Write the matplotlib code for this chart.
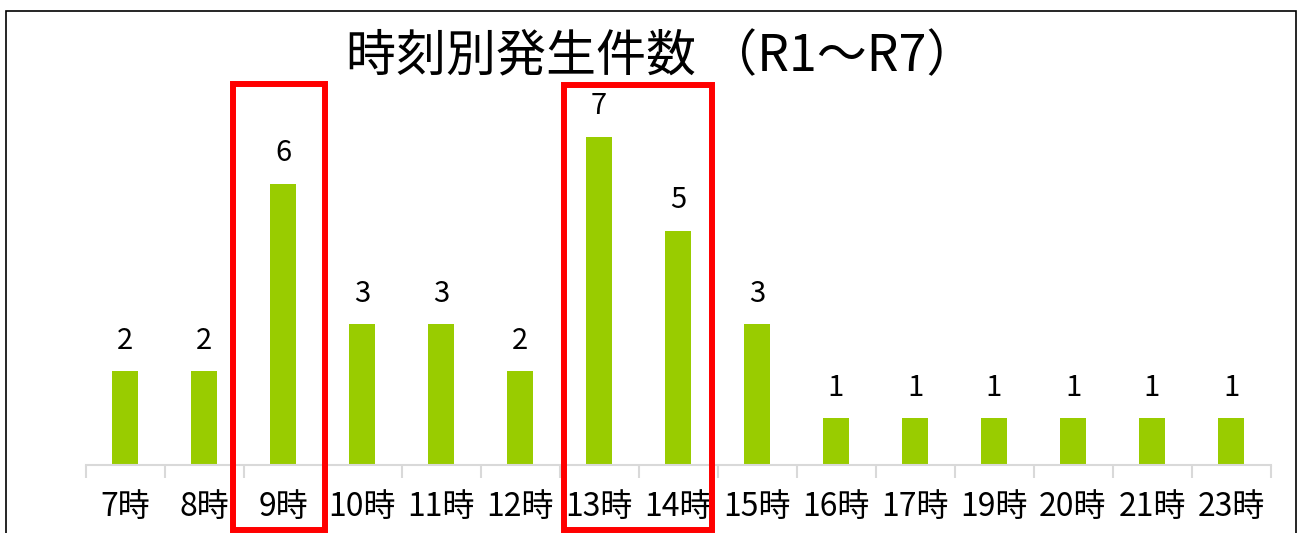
import matplotlib
matplotlib.use("Agg")
import matplotlib.pyplot as plt
from matplotlib.patches import Rectangle
from matplotlib.ticker import FixedLocator

plt.rcParams['font.family'] = ['Noto Sans CJK JP', 'DejaVu Sans']

categories = ["7時", "8時", "9時", "10時", "11時", "12時", "13時", "14時",
              "15時", "16時", "17時", "19時", "20時", "21時", "23時"]
counts = [2, 2, 6, 3, 3, 2, 7, 5, 3, 1, 1, 1, 1, 1, 1]
title = "時刻別発生件数 （R1〜R7）"

W, H = 1301, 533
fig = plt.figure(figsize=(W / 100, H / 100), dpi=100)

# axes geometry in pixels
ax_left, ax_right = 85.5, 1270.5
ax_bottom_px, ax_top_px = 465, 465 - 8 * 46.9
ax = fig.add_axes([ax_left / W, (H - ax_bottom_px) / H,
                   (ax_right - ax_left) / W, (ax_bottom_px - ax_top_px) / H])

x = list(range(len(categories)))
bars = ax.bar(x, counts, width=0.32, color="#99CC00", zorder=2)
ax.set_xlim(-0.5, len(categories) - 0.5)
ax.set_ylim(0, 8)

for xi, v in zip(x, counts):
    ax.annotate(str(v), (xi, v), xytext=(0, 22), textcoords="offset points",
                ha="center", va="center", fontsize=21, color="#000000")

for s in ["top", "right", "left"]:
    ax.spines[s].set_visible(False)
ax.spines["bottom"].set_color("#d9d9d9")
ax.spines["bottom"].set_linewidth(1.5)
ax.set_yticks([])
ax.set_xticks(x)
ax.set_xticklabels(categories, fontsize=23)
ax.xaxis.set_minor_locator(FixedLocator([i - 0.5 for i in range(len(categories) + 1)]))
ax.tick_params(axis="x", which="major", length=0, pad=19)
ax.tick_params(axis="x", which="minor", length=9, width=1.5, color="#d9d9d9")
ax.patch.set_alpha(0)

fig.text(661 / W, 1 - 57 / H, title, ha="center", va="center", fontsize=36, color="#000000")

# outer chart border
def px_rect(x0, y0, x1, y1, **kw):
    return Rectangle((x0 / W, 1 - y1 / H), (x1 - x0) / W, (y1 - y0) / H,
                     transform=fig.transFigure, fill=False, **kw)

fig.patches.append(px_rect(5.5, 10.5, 1295.5, 600, edgecolor="#000000", linewidth=1.2))
# red highlight boxes
fig.patches.append(px_rect(233, 84, 325, 530, edgecolor="#FF0000", linewidth=4.3, zorder=5))
fig.patches.append(px_rect(564, 85, 712, 530, edgecolor="#FF0000", linewidth=4.3, zorder=5))

fig.savefig("out.png", dpi=100)
